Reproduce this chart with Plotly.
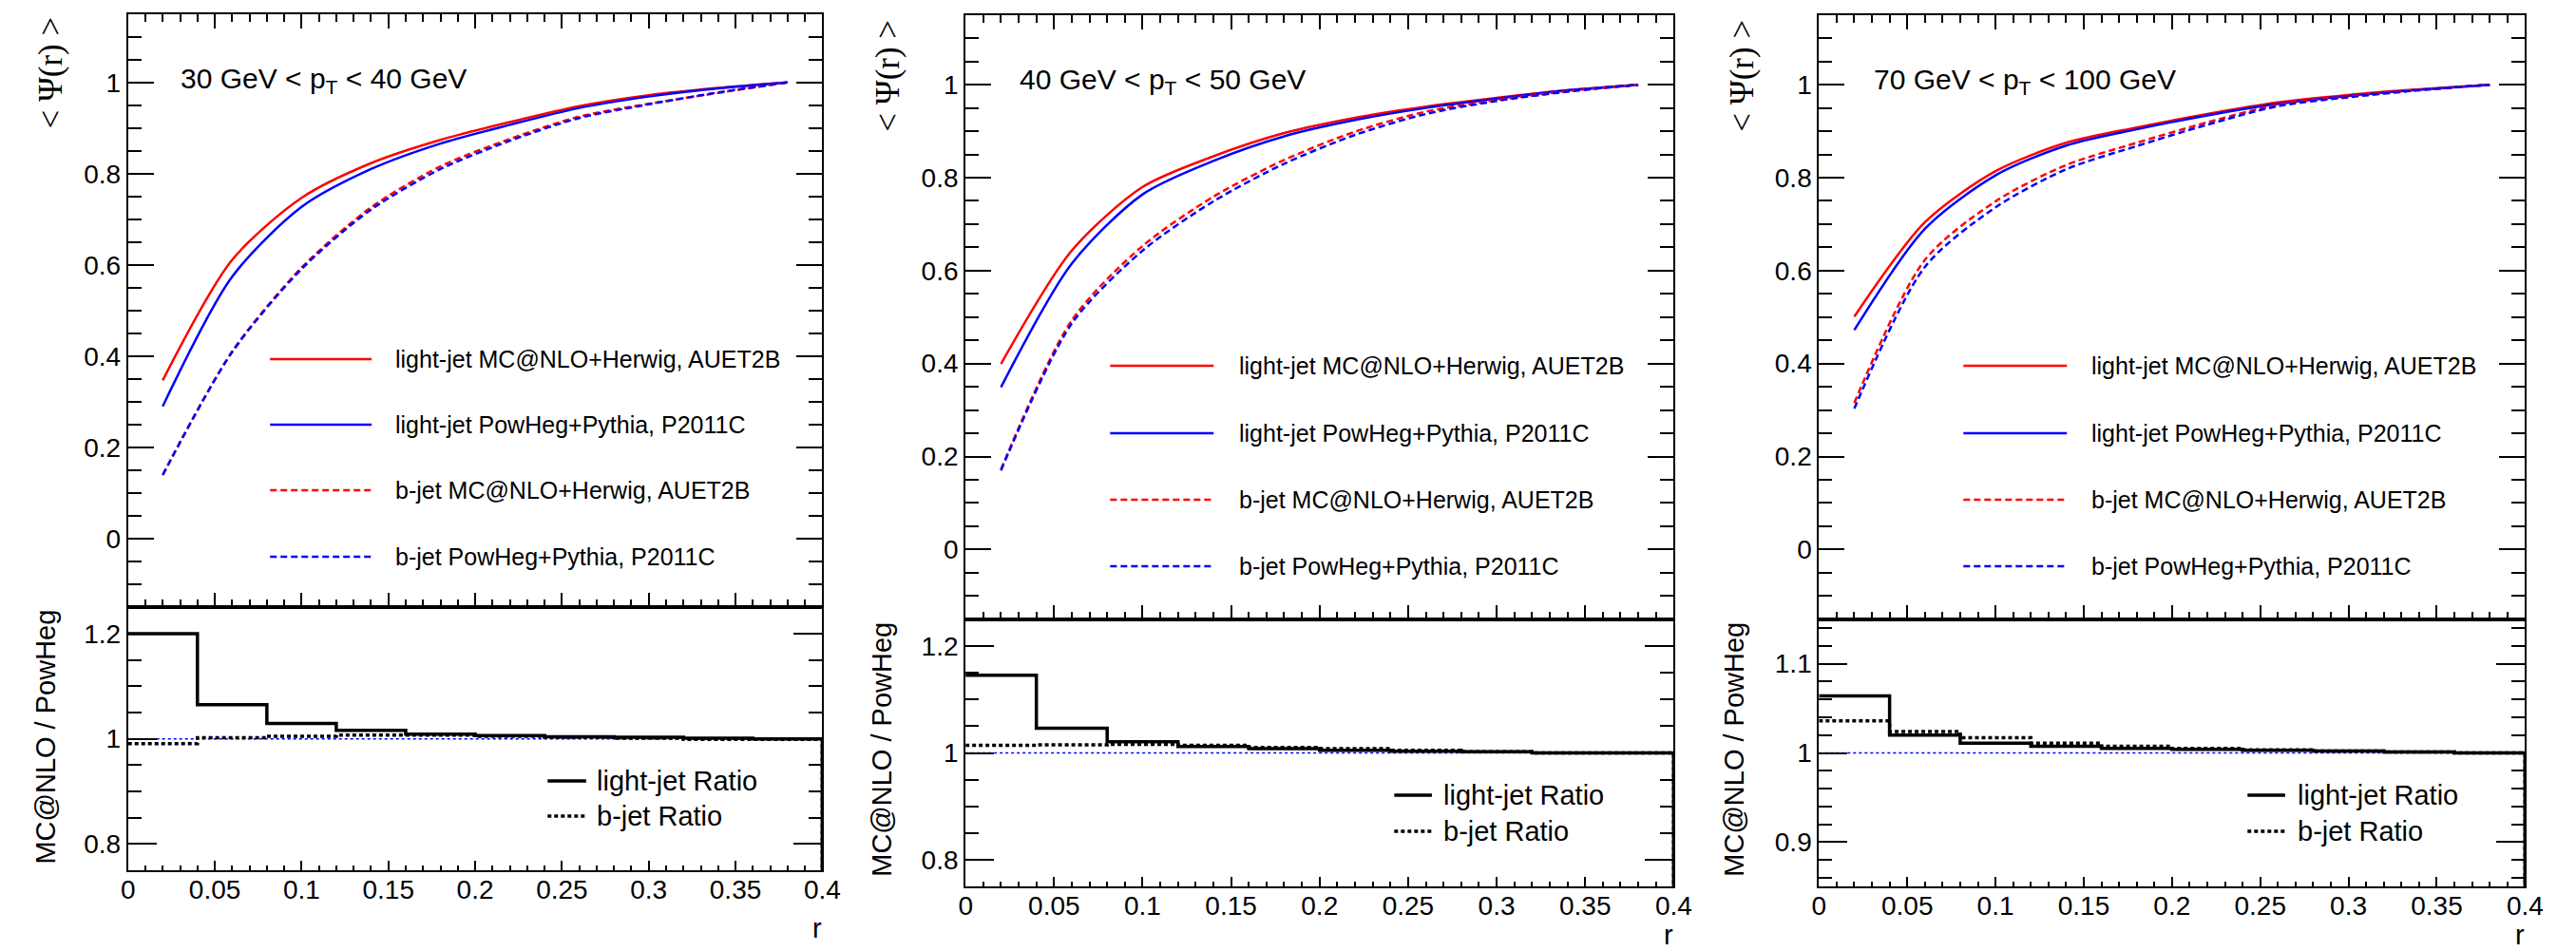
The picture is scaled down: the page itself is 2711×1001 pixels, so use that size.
import plotly.graph_objects as go

W, H = 2711, 1001

# ---------------- data ----------------
r_centers = [0.02, 0.06, 0.10, 0.14, 0.18, 0.22, 0.26, 0.30, 0.34, 0.38]
bin_edges = [0.0, 0.04, 0.08, 0.12, 0.16, 0.20, 0.24, 0.28, 0.32, 0.36, 0.40]

pt_labels = ["30 GeV &lt; p<sub>T</sub> &lt; 40 GeV",
             "40 GeV &lt; p<sub>T</sub> &lt; 50 GeV",
             "70 GeV &lt; p<sub>T</sub> &lt; 100 GeV"]

series_names = ["light-jet MC@NLO+Herwig, AUET2B",
                "light-jet PowHeg+Pythia, P2011C",
                "b-jet MC@NLO+Herwig, AUET2B",
                "b-jet PowHeg+Pythia, P2011C"]
ratio_names = ["light-jet Ratio", "b-jet Ratio"]

# 30 < pT < 40 GeV
light_mcnlo_30 = [0.347, 0.611, 0.747, 0.823, 0.874, 0.913, 0.948, 0.972, 0.988, 1.0]
light_powheg_30 = [0.290, 0.574, 0.727, 0.810, 0.866, 0.907, 0.944, 0.969, 0.987, 1.0]
b_mcnlo_30 = [0.139, 0.410, 0.594, 0.726, 0.816, 0.876, 0.925, 0.953, 0.977, 1.0]
b_powheg_30 = [0.140, 0.409, 0.591, 0.721, 0.810, 0.872, 0.922, 0.952, 0.978, 1.0]
ratio_light_30 = [1.200, 1.065, 1.029, 1.016, 1.009, 1.006, 1.004, 1.003, 1.001, 1.000]
ratio_b_30 = [0.991, 1.002, 1.005, 1.007, 1.007, 1.005, 1.003, 1.001, 0.999, 0.999]

# 40 < pT < 50 GeV
light_mcnlo_40 = [0.399, 0.643, 0.780, 0.846, 0.896, 0.929, 0.953, 0.972, 0.988, 1.0]
light_powheg_40 = [0.349, 0.615, 0.764, 0.836, 0.889, 0.924, 0.950, 0.970, 0.988, 1.0]
b_mcnlo_40 = [0.172, 0.493, 0.653, 0.759, 0.838, 0.899, 0.942, 0.967, 0.986, 1.0]
b_powheg_40 = [0.170, 0.486, 0.643, 0.749, 0.830, 0.892, 0.937, 0.965, 0.985, 1.0]
ratio_light_40 = [1.145, 1.046, 1.021, 1.012, 1.008, 1.005, 1.003, 1.002, 1.000, 1.000]
ratio_b_40 = [1.014, 1.015, 1.016, 1.014, 1.010, 1.008, 1.005, 1.002, 1.000, 1.000]

# 70 < pT < 100 GeV
light_mcnlo_70 = [0.501, 0.704, 0.814, 0.875, 0.908, 0.937, 0.962, 0.978, 0.990, 1.0]
light_powheg_70 = [0.472, 0.690, 0.805, 0.869, 0.904, 0.934, 0.959, 0.976, 0.989, 1.0]
b_mcnlo_70 = [0.315, 0.623, 0.749, 0.827, 0.875, 0.919, 0.957, 0.975, 0.989, 1.0]
b_powheg_70 = [0.303, 0.608, 0.736, 0.818, 0.868, 0.914, 0.954, 0.973, 0.988, 1.0]
ratio_light_70 = [1.064, 1.020, 1.011, 1.0075, 1.005, 1.004, 1.003, 1.002, 1.001, 1.000]
ratio_b_70 = [1.036, 1.024, 1.017, 1.011, 1.0075, 1.005, 1.0035, 1.002, 1.001, 1.000]

panels_data = [
    (light_mcnlo_30, light_powheg_30, b_mcnlo_30, b_powheg_30, ratio_light_30, ratio_b_30),
    (light_mcnlo_40, light_powheg_40, b_mcnlo_40, b_powheg_40, ratio_light_40, ratio_b_40),
    (light_mcnlo_70, light_powheg_70, b_mcnlo_70, b_powheg_70, ratio_light_70, ratio_b_70),
]

# ---------------- geometry (pixels) ----------------
geom = [
    dict(x0=128, x1=866, u0=14.7, u1=639.0, l0=639.3, l1=916.0,
         lrange=[0.75, 1.25], ldt=0.2, lmin=0.05,
         leg_line=(279, 387), leg_text=410, leg_y=[378, 447, 516, 586],
         rleg_line=(574, 615), rleg_text=624, rleg_y=[822, 859],
         ytit_u=(46, 77), ytit_l=(40, 776), rtit=(867, 994), pt=(182, 84)),
    dict(x0=1018.3, x1=1771, u0=15.8, u1=651.7, l0=651.7, l1=933.3,
         lrange=[0.75, 1.25], ldt=0.2, lmin=0.05,
         leg_line=(1172, 1282), leg_text=1307, leg_y=[385, 456, 526, 596],
         rleg_line=(1474, 1514), rleg_text=1524, rleg_y=[837, 875],
         ytit_u=(936, 80), ytit_l=(929, 789), rtit=(1772, 1001), pt=(1074, 86)),
    dict(x0=1925.5, x1=2676, u0=15.8, u1=651.7, l0=651.7, l1=933.3,
         lrange=[0.85, 1.15], ldt=0.1, lmin=0.02,
         leg_line=(2079, 2189), leg_text=2213, leg_y=[385, 456, 526, 596],
         rleg_line=(2381, 2421), rleg_text=2432, rleg_y=[837, 875],
         ytit_u=(1844, 80), ytit_l=(1835, 789), rtit=(2677, 1001), pt=(1982, 86)),
]

FONT = "Liberation Sans, Arial, Helvetica, sans-serif"
SERIF = "Liberation Serif, Times New Roman, serif"
RED, BLUE, BLACK = "#ff0000", "#0000ff", "#000000"
DASH = "7px,4px"
DOT = "4px,3px"
TICKFONT = dict(size=28, family=FONT, color="black")


def px(x):
    return x / W


def py(y):
    return 1 - y / H


fig = go.Figure()
layout = dict(width=W, height=H, margin=dict(l=0, r=0, t=0, b=0),
              paper_bgcolor="white", plot_bgcolor="white", showlegend=False,
              font=dict(family=FONT, color="black", size=28))
shapes = []
annotations = []

for i, (g, data) in enumerate(zip(geom, panels_data)):
    lm, lp, bm, bp, rl, rb = data
    ui = 2 * i + 1
    li = 2 * i + 2
    xu = "x" if ui == 1 else f"x{ui}"
    yu = "y" if ui == 1 else f"y{ui}"
    xl = f"x{li}"
    yl = f"y{li}"

    # upper curves
    styles = [(lm, RED, None), (lp, BLUE, None), (bm, RED, DASH), (bp, BLUE, DASH)]
    for vals, col, dash in styles:
        fig.add_trace(go.Scatter(x=r_centers, y=vals, mode="lines", xaxis=xu, yaxis=yu,
                                 line=dict(color=col, width=2.5, dash=dash,
                                           shape="spline", smoothing=0.8),
                                 hoverinfo="skip"))

    # lower: reference line at 1, then ratios as step histograms
    fig.add_trace(go.Scatter(x=[bin_edges[0], bin_edges[-1]], y=[1.0, 1.0], mode="lines",
                             xaxis=xl, yaxis=yl,
                             line=dict(color=BLUE, width=1.5, dash="3px,3px"),
                             hoverinfo="skip"))
    for vals, dash in [(rb, DOT), (rl, None)]:
        xs = list(bin_edges[:-1]) + [bin_edges[-1], bin_edges[-1]]
        ys = list(vals) + [vals[-1], 0.0]
        fig.add_trace(go.Scatter(x=xs, y=ys, mode="lines", xaxis=xl, yaxis=yl,
                                 line=dict(color=BLACK, width=3.5, dash=dash, shape="hv"),
                                 hoverinfo="skip"))

    xdom = [px(g["x0"]), px(g["x1"])]
    common_x = dict(range=[0, 0.4], domain=xdom, showgrid=False, zeroline=False,
                    showline=True, linecolor="black", linewidth=2,
                    ticks="inside", tickcolor="black", tickwidth=2,
                    tick0=0, dtick=0.05)
    common_y = dict(showgrid=False, zeroline=False, showline=True, linecolor="black",
                    linewidth=2, ticks="inside", tickcolor="black", tickwidth=2,
                    mirror="ticks", tickfont=TICKFONT)

    layout["xaxis" if ui == 1 else f"xaxis{ui}"] = dict(
        common_x, anchor=yu, mirror="ticks", showticklabels=False, ticklen=15,
        minor=dict(dtick=0.01, ticklen=8, tickwidth=1.5, ticks="inside", tickcolor="black"))
    layout["yaxis" if ui == 1 else f"yaxis{ui}"] = dict(
        common_y, anchor=xu, domain=[py(g["u1"]), py(g["u0"])], range=[-0.15, 1.15],
        tick0=0, dtick=0.2, ticklen=27,
        minor=dict(dtick=0.05, ticklen=14, tickwidth=1.5, ticks="inside", tickcolor="black"))
    layout[f"xaxis{li}"] = dict(
        common_x, anchor=yl, mirror=True, showticklabels=True, ticklen=10,
        tickfont=TICKFONT, ticklabelstandoff=-6,
        minor=dict(dtick=0.01, ticklen=5, tickwidth=1.5, ticks="inside", tickcolor="black"))
    layout[f"yaxis{li}"] = dict(
        common_y, anchor=xl, domain=[py(g["l1"]), py(g["l0"])], range=g["lrange"],
        tick0=0, dtick=g["ldt"], ticklen=30,
        minor=dict(dtick=g["lmin"], ticklen=14, tickwidth=1.5, ticks="inside", tickcolor="black"))

    # upper legend
    leg_styles = [(RED, None), (BLUE, None), (RED, DASH), (BLUE, DASH)]
    for (col, dash), name, yy in zip(leg_styles, series_names, g["leg_y"]):
        shapes.append(dict(type="line", xref="paper", yref="paper",
                           x0=px(g["leg_line"][0]), x1=px(g["leg_line"][1]),
                           y0=py(yy), y1=py(yy),
                           line=dict(color=col, width=2.5, dash=dash)))
        annotations.append(dict(text=name, xref="paper", yref="paper",
                                x=px(g["leg_text"]), y=py(yy), xanchor="left", yanchor="middle",
                                showarrow=False, font=dict(size=25, family=FONT, color="black")))
    # lower legend
    for dash, name, yy in zip([None, DOT], ratio_names, g["rleg_y"]):
        shapes.append(dict(type="line", xref="paper", yref="paper",
                           x0=px(g["rleg_line"][0]), x1=px(g["rleg_line"][1]),
                           y0=py(yy), y1=py(yy),
                           line=dict(color="black", width=3.5, dash=dash)))
        annotations.append(dict(text=name, xref="paper", yref="paper",
                                x=px(g["rleg_text"]), y=py(yy), xanchor="left", yanchor="middle",
                                showarrow=False, font=dict(size=29, family=FONT, color="black")))

    # titles
    annotations.append(dict(text=pt_labels[i], xref="paper", yref="paper",
                            x=px(g["pt"][0]), y=py(g["pt"][1]), xanchor="left", yanchor="middle",
                            showarrow=False, font=dict(size=30, family=FONT, color="black")))
    annotations.append(dict(text="&lt; Ψ(r) &gt;", xref="paper", yref="paper",
                            x=px(g["ytit_u"][0]), y=py(g["ytit_u"][1]),
                            xanchor="center", yanchor="middle", textangle=-90,
                            showarrow=False, font=dict(size=35, family=SERIF, color="black")))
    annotations.append(dict(text="MC@NLO / PowHeg", xref="paper", yref="paper",
                            x=px(g["ytit_l"][0]), y=py(g["ytit_l"][1]),
                            xanchor="center", yanchor="middle", textangle=-90,
                            showarrow=False, font=dict(size=29, family=FONT, color="black")))
    annotations.append(dict(text="r", xref="paper", yref="paper",
                            x=px(g["rtit"][0]), y=py(g["rtit"][1]),
                            xanchor="right", yanchor="bottom", borderpad=0,
                            showarrow=False, font=dict(size=29, family=FONT, color="black")))

layout["shapes"] = shapes
layout["annotations"] = annotations
fig.update_layout(**layout)
fig.write_html("out.html")
